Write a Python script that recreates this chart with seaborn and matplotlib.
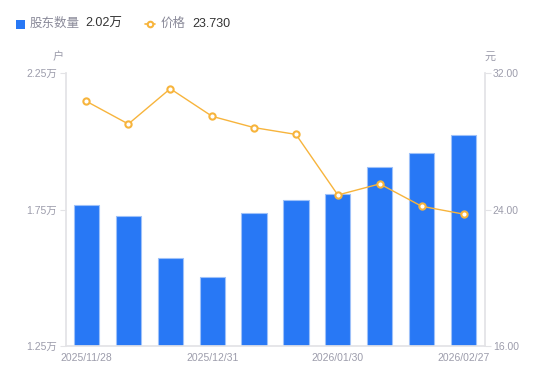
import numpy as np
import pandas as pd
import seaborn as sns
import matplotlib.pyplot as plt
from matplotlib.lines import Line2D
from matplotlib.patches import Rectangle
from matplotlib.ticker import FuncFormatter

sns.set_theme(style='white')
plt.rcParams['font.family'] = ['Liberation Sans', 'Noto Sans CJK SC', 'DejaVu Sans']

dates = ['2025/11/28', '2025/12/10', '2025/12/19', '2025/12/31', '2026/01/09',
         '2026/01/20', '2026/01/30', '2026/02/10', '2026/02/20', '2026/02/27']
holders = [1.765, 1.727, 1.572, 1.502, 1.736, 1.784, 1.808, 1.905, 1.956, 2.022]  # 万户
price = [30.34, 29.01, 31.08, 29.46, 28.80, 28.40, 24.85, 25.50, 24.19, 23.73]

left_ticks = [1.25, 1.75, 2.25]
right_ticks = [16.0, 24.0, 32.0]
shown_dates = ['2025/11/28', '2025/12/31', '2026/01/30', '2026/02/27']

blue = '#2878f5'
orange = '#f7b43c'
grey_txt = '#9c9cab'
axis_col = '#e3e3e6'

df = pd.DataFrame({'date': dates, 'holders': holders, 'price': price})

fig = plt.figure(figsize=(5.5, 3.81), dpi=100)
ax = fig.add_axes([65.5 / 550, 35 / 381, 419 / 550, 273 / 381])

sns.barplot(data=df, x='date', y='holders', ax=ax, color=blue, saturation=1,
            width=0.6, edgecolor='#9ec1f9', linewidth=0.8)
ax.set_ylim(1.25, 2.25)
ax.set_xlim(-0.5, 9.5)
ax.set_yticks(left_ticks)
ax.yaxis.set_major_formatter(FuncFormatter(lambda v, p: f'{v:.2f}万'))
ax.set_xticks([dates.index(d) for d in shown_dates])
ax.set_xticklabels(shown_dates)
ax.set_xlabel('')
ax.set_ylabel('')

ax2 = ax.twinx()
sns.lineplot(x=np.arange(len(price)), y=price, ax=ax2, color=orange, linewidth=1,
             marker='o', markersize=4.5, markerfacecolor='white',
             markeredgecolor=orange, markeredgewidth=1.5)
ax2.set_ylim(16, 32)
ax2.set_yticks(right_ticks)
ax2.yaxis.set_major_formatter(FuncFormatter(lambda v, p: f'{v:.2f}'))
ax2.set_ylabel('')

for a in (ax, ax2):
    for s in a.spines.values():
        s.set_visible(False)
    a.tick_params(axis='both', colors=axis_col, labelcolor=grey_txt, labelsize=7.5,
                  length=4, width=0.8, pad=2)
    a.grid(False)
ax.spines['left'].set_visible(True)
ax.spines['left'].set_color(axis_col)
ax.spines['bottom'].set_visible(True)
ax.spines['bottom'].set_color(axis_col)
ax2.spines['right'].set_visible(True)
ax2.spines['right'].set_color(axis_col)
ax.tick_params(axis='x', length=0, pad=5)

fig.text(58 / 550, 1 - 57 / 381, '户', fontsize=8, color=grey_txt, ha='center', va='center')
fig.text(490 / 550, 1 - 57 / 381, '元', fontsize=8, color=grey_txt, ha='center', va='center')

# legend header
fig.add_artist(Rectangle((16 / 550, 1 - 29 / 381), 9 / 550, 9 / 381,
                         transform=fig.transFigure, color=blue, linewidth=0))
fig.text(30 / 550, 1 - 24 / 381, '股东数量', fontsize=9, color='#8a8a99', va='center')
fig.text(85 / 550, 1 - 24 / 381, '2.02万', fontsize=9, color='#333333', va='center')
fig.add_artist(Line2D([145 / 550, 155 / 550], [1 - 24 / 381, 1 - 24 / 381],
                      transform=fig.transFigure, color=orange, linewidth=1.2))
fig.add_artist(Line2D([150 / 550], [1 - 24 / 381], transform=fig.transFigure,
                      color=orange, marker='o', markersize=4, markerfacecolor='white',
                      markeredgewidth=1.5, linestyle='none'))
fig.text(161 / 550, 1 - 24 / 381, '价格', fontsize=9, color='#8a8a99', va='center')
fig.text(192 / 550, 1 - 24 / 381, '23.730', fontsize=9, color='#333333', va='center')

fig.savefig('out.png', dpi=100)
